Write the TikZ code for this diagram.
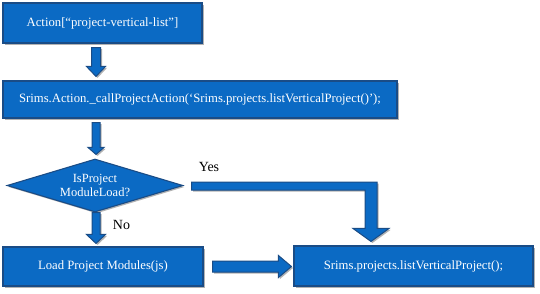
\documentclass[tikz,border=0pt]{standalone}
\usepackage{fontspec}
\setmainfont{Liberation Serif}
\usetikzlibrary{calc,shapes.geometric,shadows}
\definecolor{bfill}{HTML}{0B6AC4}
\definecolor{bdraw}{HTML}{1A4C86}
\tikzset{
  shade/.style={general shadow={shadow xshift=1.5pt, shadow yshift=-1.5pt, fill=black!30}},
  box/.style={draw=bdraw, line width=1.1pt, fill=bfill, text=white, inner sep=0pt,
    font=\fontsize{12.7}{15}\selectfont, shade},
  decision/.style={box, diamond, aspect=3.32, align=center, font=\fontsize{12.5}{14}\selectfont},
  barrow/.style={draw=bdraw, line width=1pt, fill=bfill, line join=miter, shade},
  lbl/.style={font=\fontsize{14}{16}\selectfont, text=black, inner sep=0pt}
}
% vertical block arrow: #1 top point, #2 tip point, #3 shaft half width, #4 head half width, #5 head length
\newcommand\vblockarrow[5]{%
  \draw[barrow] let \p1=(#1), \p2=(#2) in
    (\x1-#3,\y1) -- (\x1+#3,\y1) -- (\x1+#3,\y2+#5) -- (\x1+#4,\y2+#5) -- (\x1,\y2)
    -- (\x1-#4,\y2+#5) -- (\x1-#3,\y2+#5) -- cycle;}
\begin{document}
\begin{tikzpicture}[x=1pt,y=-1pt]
\useasboundingbox (0,0) rectangle (540,293);
\node[box, minimum width=199pt, minimum height=40pt] (b1) at (102.5,23) {Action[“project-vertical-list”]};
\node[box, minimum width=394pt, minimum height=37pt] (b2) at (200,99.5) {Srims.Action.\_callProjectAction(‘Srims.projects.listVerticalProject()’);};
\node[decision, minimum width=176pt, minimum height=53pt] (d) at (95,185.5) {IsProject\\ModuleLoad?};
\node[box, minimum width=200pt, minimum height=39pt] (b3) at (103,266.5) {Load Project Modules(js)};
\node[box, minimum width=239pt, minimum height=40pt] (b4) at (413.5,266) {Srims.projects.listVerticalProject();};
\node[lbl] (yes) at (209,167) {Yes};
\node[lbl] (no) at (121.5,225) {No};
% vertical block arrows
\coordinate (ax) at (96,0);
\vblockarrow{$(b1.south -| ax)+(0,4)$}{$(b2.north -| ax)+(0,-4)$}{4.5}{9.5}{10}
\vblockarrow{$(b2.south -| ax)+(0,4)$}{$(d.north -| ax)+(0,-4)$}{4}{8}{7}
\vblockarrow{$(d.south -| ax)+(0,0)$}{$(b3.north -| ax)+(0,-3)$}{4}{9.5}{9}
% yes arrow
\coordinate (yx) at (371,0);
\draw[barrow] let \p1=($(d.east)+(8,0)$), \p2=($(b4.north -| yx)+(0,-4)$) in
  (\x1,\y1+3.5) -- (\x2+6,\y1+3.5) -- (\x2+6,\y2+13) -- (\x2+18,\y2+13) -- (\x2,\y2)
  -- (\x2-18,\y2+13) -- (\x2-6,\y2+13) -- (\x2-6,\y1-4.5) -- (\x1,\y1-4.5) -- cycle;
% horizontal arrow
\draw[barrow] let \p1=($(b3.east)+(9,0)$), \p2=($(b4.west)+(-2,0)$) in
  (\x1,\y1+5.5) -- (\x2-13,\y1+5.5) -- (\x2-13,\y1+11) -- (\x2,\y1) -- (\x2-13,\y1-11)
  -- (\x2-13,\y1-5.5) -- (\x1,\y1-5.5) -- cycle;
\end{tikzpicture}
\end{document}
